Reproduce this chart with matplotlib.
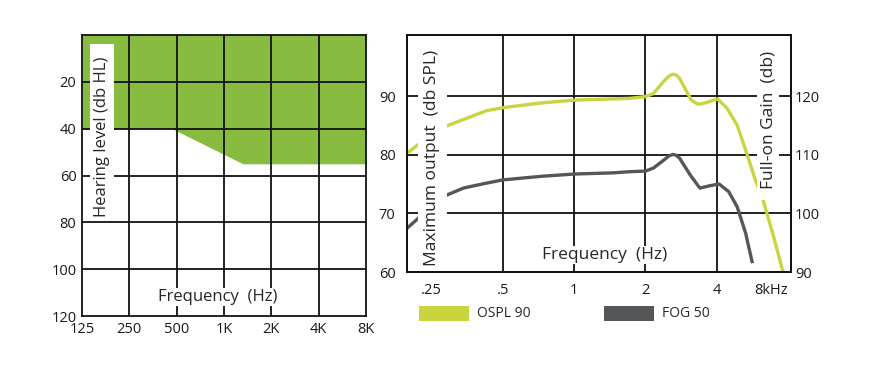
import matplotlib
matplotlib.use("Agg")
import matplotlib.pyplot as plt
from matplotlib.patches import Rectangle

plt.rcParams["font.family"] = ["Open Sans", "DejaVu Sans"]

# audiogram (left)
aud_ticks = [125, 250, 500, 1000, 2000, 4000, 8000]
aud_labels = ["125", "250", "500", "1K", "2K", "4K", "8K"]
hl_ticks = [20, 40, 60, 80, 100, 120]
fit_freq = [125, 467, 1320, 8000]
fit_level = [40, 40, 55, 55]

# response curves (right), kHz / dB SPL
resp_ticks = [0.25, 0.5, 1, 2, 4, 8]
resp_labels = [".25", ".5", "1", "2", "4", "8kHz"]
ospl_f = [0.196, 0.227, 0.289, 0.351, 0.426, 0.5, 0.717, 1.0, 1.46, 1.72, 2.0,
          2.16, 2.38, 2.50, 2.60, 2.70, 2.79, 2.95, 3.13, 3.33, 3.50, 3.69,
          4.04, 4.43, 4.89, 5.37, 5.83, 6.32, 6.97, 7.63]
ospl_db = [80.2, 82.2, 84.9, 86.2, 87.5, 88.0, 88.8, 89.3, 89.5, 89.6, 89.9,
           90.4, 92.4, 93.3, 93.7, 93.6, 93.0, 91.2, 89.3, 88.6, 88.7, 89.0,
           89.5, 87.9, 85.0, 80.2, 75.7, 72.0, 66.0, 60.05]
fog_f = [0.196, 0.227, 0.289, 0.34, 0.42, 0.5, 0.72, 1.0, 1.46, 1.72, 2.0,
         2.16, 2.38, 2.52, 2.62, 2.70, 2.79, 3.10, 3.40, 3.74, 4.10, 4.5,
         4.89, 5.31, 5.67]
fog_db = [67.4, 69.7, 73.1, 74.3, 75.1, 75.7, 76.3, 76.7, 76.9, 77.1, 77.2,
          77.7, 79.0, 79.8, 80.05, 79.9, 79.4, 76.5, 74.3, 74.7, 75.0, 73.7,
          71.1, 66.6, 61.5]
spl_ticks = [60, 70, 80, 90]
gain_ticks = [90, 100, 110, 120]

GREEN = "#87BC41"
YELLOW = "#CAD43E"
GRAY = "#555657"
TXT = "#262626"

W, H = 872, 376
fig = plt.figure(figsize=(W / 100, H / 100), dpi=100)
fig.patch.set_facecolor("white")


def px_axes(x0, y0, x1, y1):
    return fig.add_axes([x0 / W, 1 - y1 / H, (x1 - x0) / W, (y1 - y0) / H])


def grid_style(ax):
    for s in ax.spines.values():
        s.set_linewidth(1.3)
        s.set_color("#111")
    ax.tick_params(length=0, labelsize=10.5, colors="#1a1a1a")


# ---- left: audiogram
ax1 = px_axes(82, 35, 366, 316)
ax1.set_xscale("log", base=2)
ax1.set_xlim(125, 8000)
ax1.set_ylim(120, 0)
ax1.fill_between(fit_freq, 0, fit_level, color=GREEN, lw=0, zorder=1)
for f in aud_ticks[1:-1]:
    ax1.axvline(f, color="#111", lw=1.3, zorder=2)
for v in hl_ticks[:-1]:
    ax1.axhline(v, color="#111", lw=1.3, zorder=2)
ax1.set_xticks(aud_ticks)
ax1.set_xticklabels(aud_labels)
ax1.minorticks_off()
ax1.set_yticks(hl_ticks)
grid_style(ax1)
ax1.tick_params(axis="x", pad=4)
ax1.tick_params(axis="y", pad=4)
ax1.add_patch(Rectangle((0.028, 0.35), 0.085, 0.618, transform=ax1.transAxes,
                        facecolor="white", edgecolor="none", zorder=3))
ax1.text(0.07, 0.639, "Hearing level (db HL)", transform=ax1.transAxes,
         rotation=90, ha="center", va="center", fontsize=12, color=TXT, zorder=4)
ax1.text(0.479, 0.068, "Frequency  (Hz)", transform=ax1.transAxes,
         ha="center", va="center", fontsize=12, color=TXT, zorder=4,
         bbox=dict(facecolor="white", edgecolor="none", pad=1))

# ---- right: response curves
ax2 = px_axes(406.7, 35, 790.7, 272)
ax2.set_xscale("log", base=2)
ax2.set_xlim(0.196, 8.23)
ax2.set_ylim(60, 100.4)
for f in resp_ticks[1:-1]:
    ax2.axvline(f, color="#111", lw=1.3, zorder=1)
for v in spl_ticks[1:]:
    ax2.axhline(v, color="#111", lw=1.3, zorder=1)
ax2.plot(ospl_f, ospl_db, color=YELLOW, lw=2.4, zorder=2,
         solid_capstyle="butt", solid_joinstyle="round")
ax2.plot(fog_f, fog_db, color=GRAY, lw=2.4, zorder=2,
         solid_capstyle="butt", solid_joinstyle="round")
ax2.set_xticks(resp_ticks)
ax2.set_xticklabels(resp_labels)
ax2.minorticks_off()
ax2.set_yticks(spl_ticks)
grid_style(ax2)
ax2.tick_params(axis="x", pad=8)
ax2.tick_params(axis="y", pad=8)
ax2.get_xticklabels()[-1].set_ha("right")

ax3 = ax2.twinx()
ax3.set_ylim(gain_ticks[0], gain_ticks[0] + 40.4)
ax3.set_yticks(gain_ticks)
grid_style(ax3)
ax3.tick_params(axis="y", pad=3)

ax2.add_patch(Rectangle((0.029, 0.008), 0.076, 0.94, transform=ax2.transAxes,
                        facecolor="white", edgecolor="none", zorder=3))
ax2.text(0.066, 0.481, "Maximum output  (db SPL)", transform=ax2.transAxes,
         rotation=90, ha="center", va="center", fontsize=12.5, color=TXT, zorder=4)
ax2.add_patch(Rectangle((0.912, 0.304), 0.058, 0.67, transform=ax2.transAxes,
                        facecolor="white", edgecolor="none", zorder=3))
ax2.text(0.941, 0.643, "Full-on Gain  (db)", transform=ax2.transAxes,
         rotation=90, ha="center", va="center", fontsize=12.5, color=TXT, zorder=4)
ax2.text(0.516, 0.072, "Frequency  (Hz)", transform=ax2.transAxes,
         ha="center", va="center", fontsize=12.5, color=TXT, zorder=4,
         bbox=dict(facecolor="white", edgecolor="none", pad=1))

# ---- legend
for x0, name, col in [(419, "OSPL 90", YELLOW), (604, "FOG 50", GRAY)]:
    fig.patches.append(Rectangle((x0 / W, 1 - 321 / H), 50 / W, 15 / H,
                                 transform=fig.transFigure, facecolor=col,
                                 edgecolor="none"))
    fig.text((x0 + 58) / W, 1 - 313.5 / H, name, ha="left", va="center",
             fontsize=10, color=TXT)

fig.savefig("out.png", dpi=100, facecolor="white")
